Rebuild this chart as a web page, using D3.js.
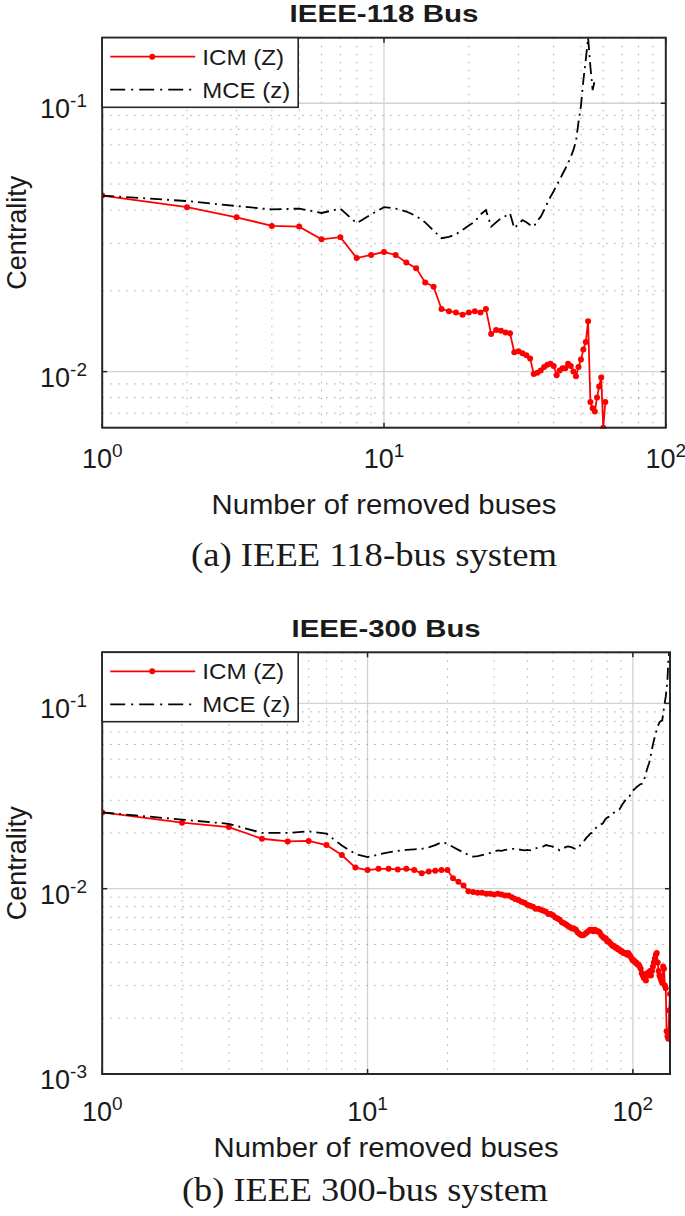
<!DOCTYPE html>
<html>
<head>
<meta charset="utf-8">
<script src="https://cdnjs.cloudflare.com/ajax/libs/d3/7.8.5/d3.min.js"></script>
<style>
body { margin: 0; background: #fff; }
text { font-family: "Liberation Sans", Arial, sans-serif; fill: #1a1a1a; }
.cap { font-family: "Liberation Serif", "Times New Roman", serif; }
</style>
</head>
<body>
<svg></svg>
<script>
var WIDTH = 685;
var HEIGHT = 1216;

// series, one value per removed bus (n = 1, 2, 3 ...)
var icm118 = [0.0453, 0.0410, 0.0376, 0.0349, 0.0347, 0.0311, 0.0317, 0.0265, 0.0272, 0.0279,
  0.0272, 0.0255, 0.0243, 0.0215, 0.0207, 0.0171, 0.0168, 0.0166, 0.0163, 0.0166,
  0.0168, 0.0166, 0.0171, 0.0138, 0.0143, 0.0142, 0.0140, 0.0139, 0.0118, 0.0119,
  0.0117, 0.0115, 0.0112, 0.0098, 0.0099, 0.0101, 0.0104, 0.0106, 0.0107, 0.0105,
  0.0097, 0.0101, 0.0103, 0.0103, 0.0107, 0.0105, 0.0100, 0.0096, 0.0104, 0.0111,
  0.0121, 0.0129, 0.0154, 0.0077, 0.0073, 0.0071, 0.0080, 0.0088, 0.0095, 0.00618,
  0.0077];
var mce118 = [0.0453, 0.0432, 0.0414, 0.0402, 0.0405, 0.0390, 0.0405, 0.0357, 0.0385, 0.0410,
  0.0405, 0.0395, 0.0380, 0.0360, 0.0335, 0.0314, 0.0318, 0.0325, 0.0337, 0.0350,
  0.0362, 0.0385, 0.0400, 0.0347, 0.0360, 0.0373, 0.0380, 0.0389, 0.0342, 0.0355,
  0.0367, 0.0360, 0.0352, 0.0347, 0.0365, 0.0378, 0.0400, 0.0425, 0.0449, 0.0470,
  0.0495, 0.0518, 0.0545, 0.0570, 0.0598, 0.0630, 0.0670, 0.0720, 0.0850, 0.0980,
  0.1220, 0.1450, 0.1755, 0.1370, 0.1120, 0.1220];
var icm300 = [0.0258, 0.0227, 0.0215, 0.0186, 0.0180, 0.0181, 0.0172, 0.0152, 0.0130, 0.0126,
  0.0128, 0.0128, 0.0127, 0.0128, 0.0126, 0.0121, 0.0124, 0.0125, 0.0126, 0.0126,
  0.0114, 0.0109, 0.0104, 0.0097, 0.0096, 0.0095, 0.0095, 0.0094, 0.0094, 0.0093,
  0.0094, 0.0093, 0.0092, 0.0092, 0.0090, 0.0088, 0.0087, 0.0085, 0.0084, 0.0082,
  0.0081, 0.0080, 0.0078, 0.0078, 0.0077, 0.0076, 0.0075, 0.0073, 0.0073, 0.0072,
  0.0070, 0.0069, 0.0068, 0.0066, 0.0065, 0.0064, 0.0063, 0.0062, 0.0061, 0.0061,
  0.0060, 0.0058, 0.0057, 0.0056, 0.0056, 0.0057, 0.0058, 0.0059, 0.0060, 0.0060,
  0.0059, 0.0060, 0.0059, 0.0059, 0.0058, 0.0056, 0.0055, 0.0054, 0.0054, 0.0052,
  0.0052, 0.0051, 0.0050, 0.0049, 0.0049, 0.0048, 0.0048, 0.0047, 0.0047, 0.0046,
  0.0046, 0.0045, 0.0045, 0.0045, 0.0044, 0.0045, 0.0044, 0.0043, 0.0042, 0.0041,
  0.0041, 0.0040, 0.0040, 0.0039, 0.0039, 0.0038, 0.0037, 0.0035, 0.0034, 0.0033,
  0.0034, 0.0032, 0.0035, 0.0034, 0.0035, 0.0036, 0.0034, 0.0036, 0.0038, 0.0040,
  0.0042, 0.0044, 0.0045, 0.0040, 0.0036, 0.0034, 0.0033, 0.0032, 0.0031, 0.0038,
  0.0037, 0.0030, 0.0029, 0.0017, 0.0016, 0.00155, 0.0022, 0.0027];
var mce300 = [0.0258, 0.0236, 0.0224, 0.0200, 0.0200, 0.0204, 0.0198, 0.0171, 0.0154, 0.0148,
  0.0153, 0.0157, 0.0160, 0.0162, 0.0163, 0.0164, 0.0167, 0.0172, 0.0178, 0.0175,
  0.0168, 0.0162, 0.0157, 0.0152, 0.0149, 0.0150, 0.0152, 0.0154, 0.0156, 0.0159,
  0.0161, 0.0160, 0.0162, 0.0163, 0.0164, 0.0164, 0.0163, 0.0162, 0.0161, 0.0162,
  0.0161, 0.0163, 0.0165, 0.0167, 0.0168, 0.0169, 0.0172, 0.0171, 0.0170, 0.0168,
  0.0166, 0.0164, 0.0161, 0.0163, 0.0166, 0.0168, 0.0169, 0.0168, 0.0167, 0.0165,
  0.0164, 0.0165, 0.0170, 0.0175, 0.0179, 0.0184, 0.0189, 0.0193, 0.0198, 0.0200,
  0.0205, 0.0210, 0.0215, 0.0219, 0.0221, 0.0223, 0.0225, 0.0232, 0.0238, 0.0242,
  0.0244, 0.0247, 0.0252, 0.0255, 0.0258, 0.0262, 0.0264, 0.0266, 0.0268, 0.0275,
  0.0283, 0.0290, 0.0296, 0.0303, 0.0309, 0.0311, 0.0315, 0.0322, 0.0330, 0.0338,
  0.0343, 0.0347, 0.0352, 0.0356, 0.0360, 0.0364, 0.0367, 0.0368, 0.0370, 0.0385,
  0.0400, 0.0420, 0.0440, 0.0458, 0.0474, 0.0495, 0.0530, 0.0565, 0.0600, 0.0630,
  0.0660, 0.0690, 0.0720, 0.0745, 0.0770, 0.0790, 0.0800, 0.0805, 0.0812, 0.0870,
  0.0950, 0.1020, 0.1087, 0.1200, 0.1337, 0.1710, 0.1887];

var legendLabels = ['ICM (Z)', 'MCE (z)'];
var titles = ['IEEE-118 Bus', 'IEEE-300 Bus'];
var captions = ['(a) IEEE 118-bus system', '(b) IEEE 300-bus system'];
var xLabel = 'Number of removed buses';
var yLabel = 'Centrality';
var xTickVals = [1, 10, 100];
var yTickVals118 = [0.01, 0.1];
var yTickVals300 = [0.001, 0.01, 0.1];

var svg = d3.select('svg').attr('width', WIDTH).attr('height', HEIGHT);

var panels = [
  { icm: icm118, mce: mce118, title: titles[0], caption: captions[0], yTicks: yTickVals118,
    xDom: [1, 100], yDom: [0.00618, 0.1755],
    left: 102.2, right: 665.8, top: 37.7, bottom: 427.7,
    titleY: 22, xTickY: 468, xLabelY: 514, capX: 374, capY: 566, legH: 69.6 },
  { icm: icm300, mce: mce300, title: titles[1], caption: captions[1], yTicks: yTickVals300,
    xDom: [1, 138], yDom: [0.001, 0.1887],
    left: 102.2, right: 670, top: 652.3, bottom: 1074,
    titleY: 637, xTickY: 1121, xLabelY: 1157, capX: 365, capY: 1201, legH: 69.4 }
];

function pow10Label(sel, v) {
  var e = Math.round(Math.log10(v));
  sel.append('tspan').attr('font-size', 27).text('10');
  sel.append('tspan').attr('font-size', 19).attr('dy', -11).text(e);
}

panels.forEach(function(p, pi) {
  var x = d3.scaleLog().domain(p.xDom).range([p.left, p.right]);
  var y = d3.scaleLog().domain(p.yDom).range([p.bottom, p.top]);
  var g = svg.append('g');
  var isMajor = function(v) { return Math.abs(Math.log10(v) - Math.round(Math.log10(v))) < 1e-6; };

  var clipId = 'clip' + pi;
  g.append('clipPath').attr('id', clipId).append('rect')
    .attr('x', p.left).attr('y', p.top - 1).attr('width', p.right - p.left).attr('height', p.bottom - p.top + 2);

  // grid: solid at decades, dotted in between
  var xt = x.ticks().filter(function(v) { return v > p.xDom[0] && v < p.xDom[1]; });
  var yt = y.ticks().filter(function(v) { return v > p.yDom[0] && v < p.yDom[1]; });
  g.selectAll('.gx').data(xt).enter().append('line')
    .attr('x1', function(d) { return x(d); }).attr('x2', function(d) { return x(d); })
    .attr('y1', p.top).attr('y2', p.bottom)
    .attr('stroke', function(d) { return isMajor(d) ? '#d2d2d2' : '#aaa'; })
    .attr('stroke-width', function(d) { return isMajor(d) ? 1.3 : 1; })
    .attr('stroke-dasharray', function(d) { return isMajor(d) ? null : '1.5,6.5'; });
  g.selectAll('.gy').data(yt).enter().append('line')
    .attr('y1', function(d) { return y(d); }).attr('y2', function(d) { return y(d); })
    .attr('x1', p.left).attr('x2', p.right)
    .attr('stroke', function(d) { return isMajor(d) ? '#d2d2d2' : '#aaa'; })
    .attr('stroke-width', function(d) { return isMajor(d) ? 1.3 : 1; })
    .attr('stroke-dasharray', function(d) { return isMajor(d) ? null : '1.5,6.5'; });

  var line = d3.line()
    .x(function(d, i) { return x(i + 1); })
    .y(function(d) { return y(d); });

  var plot = g.append('g').attr('clip-path', 'url(#' + clipId + ')');
  plot.append('path').datum(p.icm).attr('d', line)
    .attr('fill', 'none').attr('stroke', '#ff0000').attr('stroke-width', 1.8);
  plot.selectAll('circle').data(p.icm).enter().append('circle')
    .attr('cx', function(d, i) { return x(i + 1); })
    .attr('cy', function(d) { return y(d); })
    .attr('r', 3).attr('fill', '#ff0000');
  plot.append('path').datum(p.mce).attr('d', line)
    .attr('fill', 'none').attr('stroke', '#000').attr('stroke-width', 1.8)
    .attr('stroke-dasharray', '12,5,2,5');

  // frame and inward ticks
  g.append('rect').attr('x', p.left).attr('y', p.top)
    .attr('width', p.right - p.left).attr('height', p.bottom - p.top)
    .attr('fill', 'none').attr('stroke', '#262626').attr('stroke-width', 2);
  xTickVals.forEach(function(v) {
    if (v < p.xDom[0] || v > p.xDom[1]) return;
    g.append('line').attr('x1', x(v)).attr('x2', x(v)).attr('y1', p.bottom).attr('y2', p.bottom - 5).attr('stroke', '#262626').attr('stroke-width', 1.5);
    g.append('line').attr('x1', x(v)).attr('x2', x(v)).attr('y1', p.top).attr('y2', p.top + 5).attr('stroke', '#262626').attr('stroke-width', 1.5);
    var t = g.append('text').attr('x', x(v)).attr('y', p.xTickY).attr('text-anchor', 'middle');
    pow10Label(t, v);
  });
  p.yTicks.forEach(function(v) {
    g.append('line').attr('y1', y(v)).attr('y2', y(v)).attr('x1', p.left).attr('x2', p.left + 5).attr('stroke', '#262626').attr('stroke-width', 1.5);
    g.append('line').attr('y1', y(v)).attr('y2', y(v)).attr('x1', p.right).attr('x2', p.right - 5).attr('stroke', '#262626').attr('stroke-width', 1.5);
    var t = g.append('text').attr('x', 87).attr('y', y(v) + 15).attr('text-anchor', 'end');
    pow10Label(t, v);
  });

  // legend
  var lx = p.left, ly = p.top, lw = 196;
  g.append('rect').attr('x', lx).attr('y', ly).attr('width', lw).attr('height', p.legH)
    .attr('fill', '#fff').attr('stroke', '#262626').attr('stroke-width', 1.6);
  var rows = [ly + 19, ly + 52];
  g.append('line').attr('x1', lx + 8).attr('x2', lx + 93).attr('y1', rows[0]).attr('y2', rows[0])
    .attr('stroke', '#ff0000').attr('stroke-width', 1.8);
  g.append('circle').attr('cx', lx + 50).attr('cy', rows[0]).attr('r', 3).attr('fill', '#ff0000');
  g.append('line').attr('x1', lx + 8).attr('x2', lx + 93).attr('y1', rows[1]).attr('y2', rows[1])
    .attr('stroke', '#000').attr('stroke-width', 1.8).attr('stroke-dasharray', '15,6,2,6');
  legendLabels.forEach(function(s, i) {
    g.append('text').attr('x', lx + 100).attr('y', rows[i] + 8).attr('font-size', 22)
      .attr('textLength', i === 0 ? 82 : 88).attr('lengthAdjust', 'spacingAndGlyphs').text(s);
  });

  // titles and labels
  var cx = (p.left + p.right) / 2;
  g.append('text').attr('x', cx).attr('y', p.titleY).attr('text-anchor', 'middle')
    .attr('font-size', 24).attr('font-weight', 'bold')
    .attr('textLength', 189).attr('lengthAdjust', 'spacingAndGlyphs').text(p.title);
  g.append('text').attr('x', cx).attr('y', p.xLabelY).attr('text-anchor', 'middle')
    .attr('font-size', 27).attr('textLength', 345).attr('lengthAdjust', 'spacingAndGlyphs').text(xLabel);
  g.append('text').attr('transform', 'translate(26,' + ((p.top + p.bottom) / 2) + ') rotate(-90)')
    .attr('text-anchor', 'middle').attr('font-size', 27).text(yLabel);
  g.append('text').attr('class', 'cap').attr('x', p.capX).attr('y', p.capY).attr('text-anchor', 'middle')
    .attr('font-size', 34).attr('textLength', 366).attr('lengthAdjust', 'spacingAndGlyphs').text(p.caption);
});
</script>
</body>
</html>
